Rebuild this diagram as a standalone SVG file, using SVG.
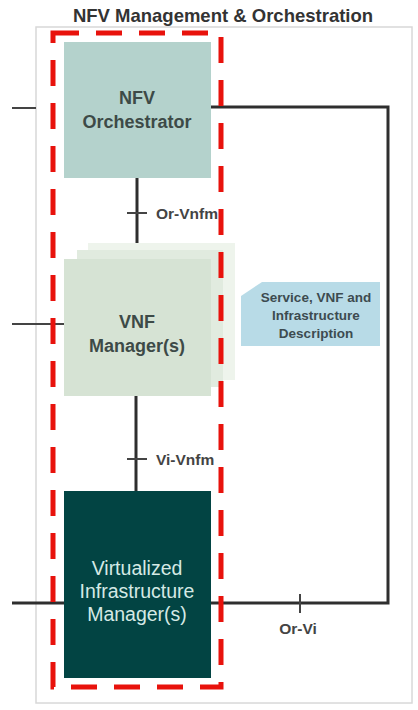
<svg xmlns="http://www.w3.org/2000/svg" width="418" height="710" viewBox="0 0 418 710">
<style>
.title{font-family:"Liberation Sans",Arial,sans-serif;font-weight:bold;font-size:18.5px;fill:#333}
.nt{font-family:"Liberation Sans",Arial,sans-serif;font-weight:bold;font-size:18px;fill:#3d4a47;text-anchor:middle}
.vt{font-family:"Liberation Sans",Arial,sans-serif;font-size:19.5px;fill:#d5e9e5;text-anchor:middle}
.lbl{font-family:"Liberation Sans",Arial,sans-serif;font-weight:bold;font-size:15.5px;fill:#444}
.bt{font-family:"Liberation Sans",Arial,sans-serif;font-weight:bold;font-size:13.5px;fill:#3d4b50;text-anchor:middle}
.ln{stroke:#2e2e2e;stroke-width:3;fill:none}
.thin{stroke:#444;stroke-width:2;fill:none}
</style>
<rect width="418" height="710" fill="#ffffff"/>
<text class="title" x="223" y="22" text-anchor="middle">NFV Management &amp; Orchestration</text>
<rect id="mano" x="36" y="27" width="376" height="676" fill="none" stroke="#d8d8d8" stroke-width="1.5"/>
<g id="connectors">
<line class="ln" x1="137" y1="178" x2="137" y2="243"/>
<line class="thin" x1="127" y1="213" x2="147" y2="213"/>
<line class="ln" x1="136" y1="396" x2="136" y2="491"/>
<line class="thin" x1="127" y1="459" x2="147" y2="459"/>
<polyline class="ln" points="211,107 388,107 388,603 211,603"/>
<line class="thin" x1="300" y1="594" x2="300" y2="613"/>
<line class="thin" x1="12" y1="108" x2="36" y2="108"/>
<line class="thin" x1="12" y1="324" x2="64" y2="324"/>
<line class="ln" x1="12" y1="603" x2="64" y2="603"/>
<text class="lbl" x="156" y="219">Or-Vnfm</text>
<text class="lbl" x="156" y="465">Vi-Vnfm</text>
<text class="lbl" x="298" y="634" text-anchor="middle">Or-Vi</text>
</g>
<g id="nfvo">
<rect x="64" y="42" width="147" height="136" fill="#b4d2cc"/>
<text class="nt" x="137" y="104">NFV</text>
<text class="nt" x="137" y="128">Orchestrator</text>
</g>
<g id="vnfm">
<rect x="88" y="243" width="147" height="137" fill="#eef4ec"/>
<rect x="77" y="250" width="146" height="137" fill="#e1ebdf"/>
<rect x="64" y="259" width="147" height="137" fill="#d6e3d4"/>
<text class="nt" x="137" y="328">VNF</text>
<text class="nt" x="137" y="352">Manager(s)</text>
</g>
<g id="vim">
<rect x="64" y="491" width="147" height="187" fill="#024443"/>
<text class="vt" x="137" y="575">Virtualized</text>
<text class="vt" x="137" y="598">Infrastructure</text>
<text class="vt" x="137" y="621">Manager(s)</text>
</g>
<g id="desc">
<polygon points="262,282 380,282 380,346 241,346 241,296" fill="#b8dbe7"/>
<text class="bt" x="316" y="302">Service, VNF and</text>
<text class="bt" x="316" y="320">Infrastructure</text>
<text class="bt" x="316" y="338">Description</text>
</g>
<rect id="highlight" x="53" y="33" width="168" height="654" fill="none" stroke="#e8120c" stroke-width="5" stroke-dasharray="26 17"/>
</svg>
